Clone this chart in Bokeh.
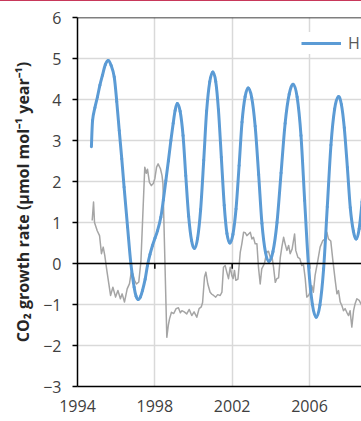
import numpy as np
from bokeh.plotting import figure
from bokeh.models import (Range1d, FixedTicker, Span, Legend, LegendItem, Div)
from bokeh.layouts import column
from bokeh.embed import file_html
from bokeh.resources import INLINE

# ---------------- data ----------------
blue_year = [1994.72, 1994.78, 1994.90, 1995.03, 1995.16, 1995.29, 1995.44, 1995.59,
             1995.74, 1995.90, 1996.03, 1996.16, 1996.29, 1996.41, 1996.59, 1996.76,
             1996.93, 1997.03, 1997.14, 1997.25, 1997.36, 1997.50, 1997.62, 1997.75,
             1997.88, 1998.01, 1998.14, 1998.31, 1998.44, 1998.57, 1998.70, 1998.83,
             1998.95, 1999.05, 1999.16, 1999.31, 1999.46, 1999.60, 1999.75, 1999.90,
             2000.05, 2000.21, 2000.37, 2000.53, 2000.68, 2000.84, 2001.00, 2001.15,
             2001.29, 2001.44, 2001.59, 2001.73, 2001.88, 2002.04, 2002.20, 2002.36,
             2002.51, 2002.67, 2002.83, 2003.01, 2003.19, 2003.37, 2003.54, 2003.72,
             2003.90, 2004.11, 2004.32, 2004.53, 2004.74, 2004.95, 2005.16, 2005.36,
             2005.56, 2005.75, 2005.95, 2006.15, 2006.35, 2006.54, 2006.73, 2006.92,
             2007.11, 2007.30, 2007.49, 2007.65, 2007.80, 2007.96, 2008.11, 2008.27,
             2008.42, 2008.57, 2008.72, 2008.85]
blue_val = [2.85, 3.49, 3.80, 4.06, 4.35, 4.59, 4.85, 4.95,
            4.83, 4.55, 3.95, 3.24, 2.55, 1.86, 0.89, 0.00,
            -0.58, -0.80, -0.88, -0.82, -0.66, -0.38, -0.05, 0.22,
            0.44, 0.62, 0.80, 1.13, 1.55, 2.02, 2.50, 3.00,
            3.42, 3.73, 3.90, 3.71, 3.12, 2.14, 1.15, 0.56,
            0.37, 0.61, 1.32, 2.52, 3.72, 4.43, 4.67, 4.44,
            3.75, 2.59, 1.42, 0.73, 0.50, 0.71, 1.33, 2.39,
            3.45, 4.07, 4.28, 4.05, 3.35, 2.17, 0.98, 0.28,
            0.05, 0.29, 1.00, 2.21, 3.42, 4.13, 4.37, 4.06,
            3.12, 1.53, -0.06, -1.00, -1.31, -1.01, -0.13, 1.38,
            2.89, 3.77, 4.07, 3.88, 3.31, 2.34, 1.36, 0.79,
            0.60, 0.85, 1.50, 2.20]

gray_year = [1994.76, 1994.83, 1994.88, 1995.02, 1995.14, 1995.24, 1995.33, 1995.41,
             1995.53, 1995.71, 1995.83, 1995.97, 1996.09, 1996.22, 1996.31, 1996.43,
             1996.57, 1996.69, 1996.78, 1996.86, 1996.95, 1997.05, 1997.17, 1997.28,
             1997.38, 1997.48, 1997.56, 1997.62, 1997.72, 1997.82, 1997.92, 1998.00,
             1998.09, 1998.17, 1998.29, 1998.37, 1998.42, 1998.62, 1998.70, 1998.76,
             1998.86, 1998.98, 1999.10, 1999.22, 1999.32, 1999.40, 1999.52, 1999.65,
             1999.78, 1999.91, 2000.03, 2000.17, 2000.29, 2000.40, 2000.47, 2000.57,
             2000.64, 2000.74, 2000.86, 2000.95, 2001.04, 2001.15, 2001.25, 2001.38,
             2001.47, 2001.55, 2001.64, 2001.72, 2001.81, 2001.90, 2001.98, 2002.05,
             2002.12, 2002.19, 2002.30, 2002.42, 2002.50, 2002.59, 2002.68, 2002.76,
             2002.85, 2002.94, 2003.02, 2003.10, 2003.19, 2003.28, 2003.36, 2003.45,
             2003.53, 2003.67, 2003.79, 2003.88, 2003.97, 2004.05, 2004.14, 2004.23,
             2004.31, 2004.40, 2004.49, 2004.57, 2004.66, 2004.74, 2004.83, 2004.92,
             2005.00, 2005.10, 2005.23, 2005.29, 2005.40, 2005.50, 2005.60, 2005.69,
             2005.78, 2005.86, 2005.95, 2006.03, 2006.12, 2006.20, 2006.29, 2006.43,
             2006.55, 2006.69, 2006.81, 2006.90, 2006.98, 2007.10, 2007.21, 2007.33,
             2007.42, 2007.50, 2007.59, 2007.67, 2007.76, 2007.84, 2007.93, 2008.02,
             2008.10, 2008.19, 2008.28, 2008.36, 2008.45, 2008.57, 2008.70, 2008.78]
gray_val = [1.05, 1.50, 1.00, 0.80, 0.68, 0.24, 0.40, 0.20,
            -0.21, -0.78, -0.58, -0.82, -0.66, -0.86, -0.74, -0.94,
            -0.62, -0.49, -0.21, -0.25, -0.41, -0.50, -0.45, 0.05,
            1.20, 2.35, 2.20, 2.30, 1.98, 1.90, 1.95, 2.07,
            2.35, 2.43, 2.31, 2.15, 1.95, -1.80, -1.50, -1.35,
            -1.19, -1.22, -1.10, -1.08, -1.20, -1.15, -1.18, -1.23,
            -1.12, -1.27, -1.18, -1.31, -1.10, -1.06, -0.95, -0.33,
            -0.21, -0.50, -0.70, -0.75, -0.78, -0.82, -0.76, -0.78,
            -0.70, -0.09, -0.05, -0.21, -0.37, -0.09, -0.29, -0.37,
            -0.17, -0.41, -0.38, 0.28, 0.48, 0.76, 0.75, 0.68,
            0.72, 0.76, 0.60, 0.64, 0.48, 0.48, -0.09, -0.50,
            -0.13, 0.00, 0.28, 0.30, 0.15, 0.20, -0.09, -0.46,
            -0.37, -0.35, 0.15, 0.40, 0.64, 0.48, 0.32, 0.44,
            0.24, 0.35, 0.72, 0.32, 0.15, 0.12, -0.05, -0.03,
            -0.37, -0.82, -0.78, -0.70, -0.54, -0.70, -0.29, 0.07,
            0.40, 0.56, 0.60, 0.76, 0.60, 0.55, 0.07, -0.41,
            -0.74, -0.66, -0.94, -1.02, -1.15, -1.10, -1.19, -1.27,
            -1.15, -1.55, -1.15, -0.98, -0.86, -0.90, -1.02, -1.05]

x_ticks = [1994, 1998, 2002, 2006]
y_ticks = [-3, -2, -1, 0, 1, 2, 3, 4, 5, 6]
legend_label = "H"
y_label = "CO\u2082 growth rate (\u03bcmol mol\u207b\u00b9 year\u207b\u00b9)"

FONT = "Open Sans"
GRID = "#D9D9D9"
BLUE = "#5B9BD5"

p = figure(width=361, height=420, output_backend="svg", toolbar_location=None,
           x_range=Range1d(1994, 2008.69), y_range=Range1d(-3, 6),
           min_border_left=77, min_border_right=0, min_border_top=16,
           min_border_bottom=35)
p.outline_line_color = None
p.background_fill_color = "white"
p.border_fill_color = "white"

# grids
p.xgrid.ticker = FixedTicker(ticks=x_ticks[1:])
p.ygrid.ticker = FixedTicker(ticks=y_ticks)
for g in (p.xgrid, p.ygrid):
    g.grid_line_color = GRID
    g.grid_line_width = 1.5

# x axis
xa = p.xaxis[0]
xa.ticker = FixedTicker(ticks=x_ticks)
xa.axis_line_color = "black"
xa.axis_line_width = 1.5
xa.major_tick_out = 0
xa.major_tick_in = 0
xa.minor_tick_out = 0
xa.minor_tick_in = 0
xa.major_label_standoff = 13
xa.major_label_text_font = FONT
xa.major_label_text_font_size = "16px"
xa.major_label_text_color = "#404040"

# y axis
ya = p.yaxis[0]
ya.ticker = FixedTicker(ticks=y_ticks)
ya.axis_line_color = "black"
ya.axis_line_width = 1.5
ya.major_tick_out = 5
ya.major_tick_in = 0
ya.major_tick_line_color = "black"
ya.major_tick_line_width = 1.5
ya.minor_tick_out = 0
ya.minor_tick_in = 0
ya.major_label_standoff = 11
ya.major_label_text_font = FONT
ya.major_label_text_font_size = "16px"
ya.major_label_text_color = "#404040"
ya.axis_label = y_label
ya.axis_label_text_font = FONT
ya.axis_label_text_font_style = "bold"
ya.axis_label_text_font_size = "16px"
ya.axis_label_text_color = "#262626"
ya.axis_label_standoff = 6

# black reference lines: top border (6) and horizontal axis crossing (0)
p.add_layout(Span(location=y_ticks[-1], dimension="width", line_color="black", line_width=1.5))
p.add_layout(Span(location=0, dimension="width", line_color="black", line_width=1.5))
# small tick marks on the zero line
p.segment(x0=x_ticks[1:], y0=[0] * 3, x1=x_ticks[1:], y1=[-0.13] * 3,
          line_color="black", line_width=1.5)

gray = p.line(gray_year, gray_val, line_color="#A5A5A5", line_width=1.5,
              line_join="round")

# blue series drawn as a smoothed line (Catmull-Rom through the read points,
# like the spreadsheet's "smoothed line" option)
bx = np.array(blue_year)
by = np.array(blue_val)
px = np.concatenate([[bx[0]], bx, [bx[-1]]])
py = np.concatenate([[by[0]], by, [by[-1]]])
n = len(bx) - 1
x0, y0 = bx[:-1], by[:-1]
x1, y1 = bx[1:], by[1:]
cx0 = x0 + (px[2:n + 2] - px[0:n]) / 6.0
cy0 = y0 + (py[2:n + 2] - py[0:n]) / 6.0
cx1 = x1 - (px[3:n + 3] - px[1:n + 1]) / 6.0
cy1 = y1 - (py[3:n + 3] - py[1:n + 1]) / 6.0
p.bezier(x0=x0, y0=y0, x1=x1, y1=y1, cx0=cx0, cy0=cy0, cx1=cx1, cy1=cy1,
         line_color=BLUE, line_width=3, line_cap="round")
# hidden straight-line version of the same series, used only as the legend key
blue_key = p.line(blue_year, blue_val, line_color=BLUE, line_width=3, visible=False)

legend = Legend(items=[LegendItem(label=legend_label, renderers=[blue_key])],
                location=(224, 332), margin=0, padding=6, spacing=0,
                glyph_width=40, glyph_height=16, label_standoff=7,
                border_line_color=None, background_fill_color="white",
                background_fill_alpha=1.0, inactive_fill_alpha=0.0,
                label_text_font=FONT, label_text_font_size="16px",
                label_text_color="#595959")
p.add_layout(legend)

top_rule = Div(text="", width=361, height=1, margin=0,
               styles={"background-color": "#C8385A"})
layout = column(top_rule, p, spacing=0)

open("out.html", "w").write(file_html(layout, INLINE))
